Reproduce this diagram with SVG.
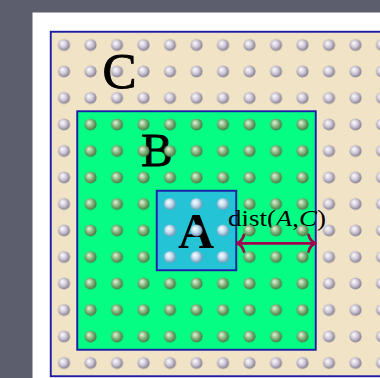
<svg xmlns="http://www.w3.org/2000/svg" width="380" height="378" viewBox="0 0 380 378">
<style>
.region{stroke:#1c1ca6;stroke-width:1.9}
.lbl{font-family:"Liberation Serif","DejaVu Serif",serif;fill:#000;text-anchor:middle}
.reg{stroke:#000;stroke-width:0.9}
.arr{fill:none;stroke:#a3004f;stroke-width:2.8;stroke-linecap:round;stroke-linejoin:round}
</style>
<defs>
<radialGradient id="gC" cx="0.45" cy="0.45" r="0.58" fx="0.36" fy="0.33">
<stop offset="0" stop-color="#ffffff"/><stop offset="0.5" stop-color="#d0c9d8"/><stop offset="1" stop-color="#7c7588"/>
</radialGradient>
<radialGradient id="gB" cx="0.45" cy="0.45" r="0.58" fx="0.36" fy="0.33">
<stop offset="0" stop-color="#e6f6e2"/><stop offset="0.5" stop-color="#88b880"/><stop offset="1" stop-color="#3f7040"/>
</radialGradient>
<radialGradient id="gA" cx="0.45" cy="0.45" r="0.58" fx="0.36" fy="0.33">
<stop offset="0" stop-color="#ffffff"/><stop offset="0.5" stop-color="#c0dcee"/><stop offset="1" stop-color="#6c8eac"/>
</radialGradient>
<pattern id="dC" x="50.75" y="31.75" width="26.5" height="26.5" patternUnits="userSpaceOnUse"><circle cx="13.25" cy="13.25" r="6" fill="url(#gC)"/></pattern>
<pattern id="dB" x="50.75" y="31.75" width="26.5" height="26.5" patternUnits="userSpaceOnUse"><circle cx="13.25" cy="13.25" r="6" fill="url(#gB)"/></pattern>
<pattern id="dA" x="50.75" y="31.75" width="26.5" height="26.5" patternUnits="userSpaceOnUse"><circle cx="13.25" cy="13.25" r="6" fill="url(#gA)"/></pattern>
</defs>
<rect width="380" height="378" fill="#5c5d6d"/>
<rect x="32.5" y="12.5" width="360" height="380" fill="#ffffff"/>
<g id="C">
<rect class="region" x="50.75" y="31.75" width="340" height="344.5" fill="#f1e3c5"/>
<text class="lbl reg" x="119.5" y="88" font-size="51">C</text>
</g>
<g id="B">
<rect class="region" x="77.25" y="111.25" width="238.5" height="238.5" fill="#05fd84"/>
<text class="lbl reg" x="157" y="166" font-size="47">B</text>
</g>
<g id="A">
<rect class="region" x="156.75" y="190.75" width="79.5" height="79.5" fill="#25c3d6"/>
<text class="lbl" x="196" y="248" font-size="50" font-weight="bold">A</text>
</g>
<g id="connectors">
<path class="arr" d="M237.5 243.3 H315"/>
<path class="arr" d="M244 234.8 C243 239 240 242 237.2 243.3 C240 244.6 243 247.6 244 251.8"/>
<path class="arr" d="M308.5 234.8 C309.5 239 312.5 242 315.3 243.3 C312.5 244.6 309.5 247.6 308.5 251.8"/>
<text x="228" y="226" font-family="Liberation Serif, DejaVu Serif, serif" font-size="24" textLength="98" lengthAdjust="spacingAndGlyphs">dist(<tspan font-style="italic">A</tspan>,<tspan font-style="italic">C</tspan>)</text>
</g>
<g id="dots">
<path d="M50.75 31.75 H390.75 V376.25 H50.75 Z M77.25 111.25 V349.75 H315.75 V111.25 Z" fill="url(#dC)" fill-rule="evenodd"/>
<path d="M77.25 111.25 H315.75 V349.75 H77.25 Z M156.75 190.75 V270.25 H236.25 V190.75 Z" fill="url(#dB)" fill-rule="evenodd"/>
<rect x="156.75" y="190.75" width="79.5" height="79.5" fill="url(#dA)"/>
</g>
</svg>
